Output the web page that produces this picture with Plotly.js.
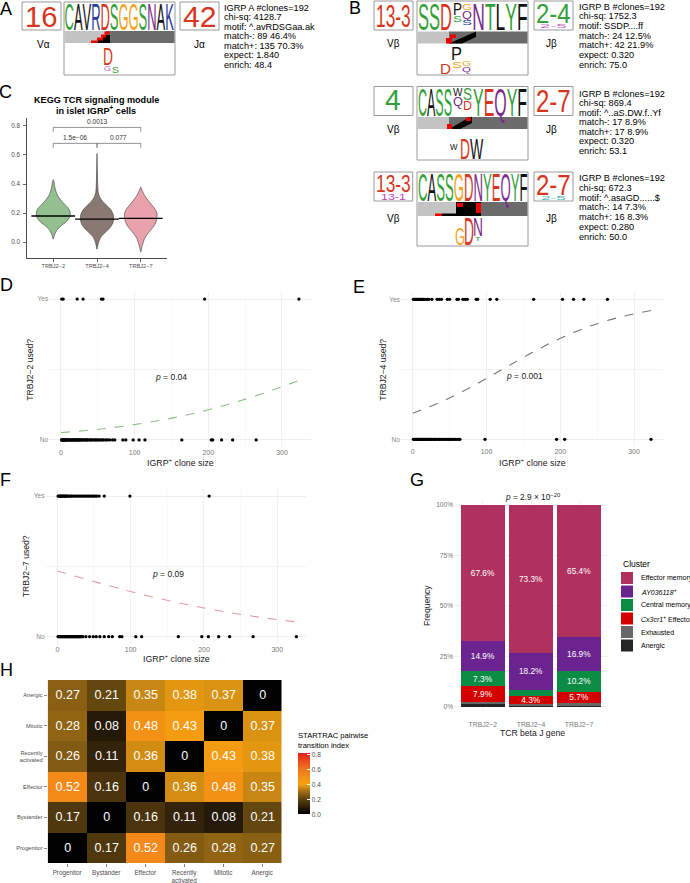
<!DOCTYPE html>
<html><head><meta charset="utf-8">
<script src="https://cdn.plot.ly/plotly-3.0.1.min.js"></script>
<style>html,body{margin:0;padding:0;background:#fff;}#plot{width:690px;height:883px;}</style>
</head><body><div id="plot"></div>
<script>
// ================= DATA =================
// Panel C : violin outlines (level -> half width in category units)
const violinGenes = ['TRBJ2−2','TRBJ2−4','TRBJ2−7'];
const violinLevels22 = [0.02,0.05,0.08,0.11,0.14,0.17,0.20,0.23,0.26,0.29,0.32,0.35,0.38,0.41,0.43];
const violinWidth22  = [0,0.03,0.08,0.17,0.30,0.37,0.39,0.35,0.26,0.17,0.10,0.06,0.035,0.02,0];
const violinLevels24 = [-0.05,-0.02,0.01,0.04,0.07,0.10,0.13,0.16,0.19,0.22,0.25,0.28,0.31,0.34,0.40,0.50,0.61];
const violinWidth24  = [0,0.02,0.05,0.10,0.20,0.30,0.36,0.38,0.37,0.32,0.23,0.13,0.06,0.03,0.015,0.008,0];
const violinLevels27 = [-0.07,-0.04,-0.01,0.02,0.05,0.08,0.11,0.14,0.17,0.20,0.23,0.26,0.29,0.32,0.35,0.38];
const violinWidth27  = [0,0.02,0.05,0.08,0.14,0.22,0.30,0.35,0.37,0.37,0.32,0.24,0.16,0.09,0.04,0];
const violinMedians = [0.179,0.158,0.163];
const bracketFrom = [0,0,1];
const bracketTo = [2,1,2];
const bracketY = [0.79,0.68,0.68];
const bracketLabels = ['0.0013','1.5e−06','0.077'];

// Panels D, E, F : clone sizes by usage, fitted curve
const yesD = [1,3,22,30,55,57,195,323];
const noD = [1,1,2,2,3,3,4,4,5,5,6,7,8,9,10,11,12,13,14,15,16,17,18,19,20,21,22,23,24,25,26,27,28,30,31,32,34,35,36,38,40,41,43,45,47,48,50,52,54,56,58,61,63,66,70,73,84,88,98,106,114,164,204,206,218,233,265];
const yesE = [1,2,3,4,5,6,7,8,9,10,11,12,13,14,15,16,18,20,22,26,33,36,39,47,50,60,62,68,71,74,86,88,105,114,164,203,218,232,264];
const noE = [1,2,3,4,5,6,7,8,9,10,11,12,13,14,15,16,17,18,19,20,21,22,23,24,25,27,29,30,31,33,35,36,38,40,41,43,45,47,49,50,52,54,56,58,60,62,64,98,195,206,323];
const yesF = [1,2,3,4,5,6,7,8,9,10,11,12,13,14,16,17,19,20,22,24,26,28,30,32,34,36,38,40,42,44,46,48,50,52,54,57,64,99,207];
const noF = [1,2,3,4,5,6,7,8,9,10,11,12,13,14,15,16,17,18,19,20,21,22,23,24,25,26,27,28,29,30,31,32,33,35,39,44,49,53,58,64,70,75,85,88,107,115,165,197,206,220,235,267,326];
const curveX = [0,40,80,120,160,200,240,280,323];
const curveD = [0.052,0.070,0.094,0.126,0.165,0.214,0.273,0.341,0.422];
const curveE = [0.186,0.271,0.376,0.495,0.614,0.721,0.808,0.872,0.920];
const curveF = [0.467,0.407,0.349,0.295,0.247,0.204,0.167,0.135,0.107];
const pLabels = ['0.04','0.001','0.09'];

// Panel G : cluster composition (%) per TRBJ gene, bottom -> top
const gGenes = ['TRBJ2−2','TRBJ2−4','TRBJ2−7'];
const gClusters = ['Anergic','Exhausted','<i>Cx3cr1</i><sup>+</sup> Effector','Central memory','<i>AY036118</i><sup>+</sup>','Effector memory'];
const gAnergic = [1.2,0.4,0.5];
const gExhausted = [1.1,0.7,1.3];
const gCx3cr1 = [7.9,4.3,5.7];
const gCentral = [7.3,3.1,10.2];
const gAY036118 = [14.9,18.2,16.9];
const gEffMem = [67.6,73.3,65.4];

// Panel H : STARTRAC pairwise transition index
const hCols = ['Progenitor','Bystander','Effector','Recently<br>activated','Mitotic','Anergic'];
const hRows = ['Progenitor','Bystander','Effector','Recently<br>activated','Mitotic','Anergic'];
const hProgenitor = [0,0.17,0.52,0.26,0.28,0.27];
const hBystander = [0.17,0,0.16,0.11,0.08,0.21];
const hEffector = [0.52,0.16,0,0.36,0.48,0.35];
const hRecent = [0.26,0.11,0.36,0,0.43,0.38];
const hMitotic = [0.28,0.08,0.48,0.43,0,0.37];
const hAnergic = [0.27,0.21,0.35,0.38,0.37,0];

// Panels A / B : TCRdist motif summaries
const infoA  = ['IGRP A #clones=192','chi-sq: 4128.7','motif: ^.avRDSGaa.ak','match-: 89 46.4%','match+: 135 70.3%','expect: 1.840','enrich: 48.4'];
const infoB1 = ['IGRP B #clones=192','chi-sq: 1752.3','motif: SSDP....ff','match-: 24 12.5%','match+: 42 21.9%','expect: 0.320','enrich: 75.0'];
const infoB2 = ['IGRP B #clones=192','chi-sq: 869.4','motif: ^..aS.DW.f..Yf','match-: 17 8.9%','match+: 17 8.9%','expect: 0.320','enrich: 53.1'];
const infoB3 = ['IGRP B #clones=192','chi-sq: 672.3','motif: ^.asaGD......$','match-: 14 7.3%','match+: 16 8.3%','expect: 0.280','enrich: 50.0'];

// ================= STYLE / HELPERS =================
const FONT = '"Liberation Sans", Arial, sans-serif';
const W = 690, H = 883;
const px = x => x / W, py = y => 1 - y / H;
const GREEN='#34a039', RED='#d6361e', ORANGE='#f2a21c', PURPLE='#7b2a8d', BLUE='#2a3a99', BLK='#111111';
const AA = {C:GREEN,S:GREEN,T:GREEN,Y:GREEN,G:ORANGE,D:RED,E:RED,N:PURPLE,Q:PURPLE,K:BLUE,R:BLUE,H:BLUE,A:BLK,V:BLK,L:BLK,I:BLK,F:BLK,W:BLK,P:BLK,M:BLK};
const annotations = [], shapes = [], fits = [];
function rect(x0,y0,x1,y1,fill,line){
  shapes.push({type:'rect',xref:'paper',yref:'paper',x0:px(x0),x1:px(x1),y0:py(y1),y1:py(y0),
    fillcolor:fill||'rgba(0,0,0,0)',line:line?{color:line,width:1}:{width:0},layer:'above'});
}
function poly(pts,fill){
  const d = pts.map((p,i)=>(i?'L':'M')+px(p[0])+','+py(p[1])).join(' ')+' Z';
  shapes.push({type:'path',xref:'paper',yref:'paper',path:d,fillcolor:fill,line:{width:0},layer:'above'});
}
function txt(x,y,text,o){
  o=o||{};
  annotations.push({xref:'paper',yref:'paper',x:px(x),y:py(y),text:text,showarrow:false,
    xanchor:o.xa||'center',yanchor:o.ya||'middle',textangle:o.angle||0,
    font:{family:FONT,size:o.size||8,color:o.color||'#000'}});
  return annotations.length-1;
}
function fitText(str,x0,y0,x1,y1,color){
  const t = color ? `<span style="color:${color}">${str}</span>` :
    str.split('').map(c=>`<span style="color:${AA[c]||BLK}">${c}</span>`).join('');
  const i = txt((x0+x1)/2,(y0+y1)/2,t,{size:14});
  fits.push({i,x0,y0,x1,y1});
}
function infoBlock(lines,x,y0,step){ lines.forEach((l,k)=>txt(x,y0+k*step,l,{xa:'left',size:9.2})); }
const BOX='#9a9a9a', LG='#c4c4c4', DG='#6b6b6b';

// ---- Panel A
rect(22,2,61,30,null,BOX); fitText('16',25,5,58,27,RED);
txt(43,44,'Vα',{size:10});
rect(64,2,175,75,null,BOX);
fitText('CAVRDSGGSNAK',65,3,174,30);
rect(64.5,31,106,43,LG); rect(106,31,174.5,43,DG);
rect(98,39,110,43,'#000'); rect(103,35,110,39,'#000');
rect(91,40.5,98,43,'#e00'); rect(97,37.5,103,40.5,'#e00'); rect(101,34.5,106,37.5,'#e00'); rect(104.5,31.5,109.5,34.5,'#e00');
fitText('D',103,47,113,65,RED); fitText('S',112,66,119,73,GREEN); fitText('G',104,66,111,71,'#c060c0');
rect(180,2,219,30,null,BOX); fitText('42',183,5,217,27,RED);
txt(199,44,'Jα',{size:10});
infoBlock(infoA,222,7.7,9.5);

// ---- Panel B row 1
rect(374,1,413,30,null,BOX); fitText('13-3',376,4,411,27,RED);
txt(393.3,43.5,'Vβ',{size:10});
rect(417,1,528,75,null,BOX);
fitText('SSD',418,3,452,30);
fitText('P',453,3,462,15,BLK); fitText('S',453,16,462,22,GREEN);
fitText('G',462,3,472,10,ORANGE); fitText('Q',462,11,472,19,PURPLE); fitText('S',462,20,472,25,BLUE);
fitText('NTLYF',473,3,527,30);
rect(417.5,31.5,449,43.5,LG); rect(449,31.5,527.5,43.5,DG);
poly([[449,43.5],[476,31.5],[476,37],[462,43.5]],'#000');
rect(446,38,452,43.5,'#e00'); rect(450,34.5,456,38,'#e00');
fitText('P',451,46,462,60,BLK); fitText('D',440,63,451,74,RED); fitText('S',452,61,462,68,ORANGE);
fitText('G',462,61,471,66,ORANGE); fitText('Q',462,67,471,72,PURPLE);
rect(534,1,573,30,null,BOX); fitText('2-4',536,3,571,23,GREEN); fitText('2-5',540,24,567,28,'#d060d0');
txt(551.7,43.5,'Jβ',{size:10});
infoBlock(infoB1,576.7,6.7,9.65);

// ---- Panel B row 2
rect(374,86.5,413,115.5,null,BOX); fitText('4',385,89,401,110,GREEN);
txt(393.3,129.5,'Vβ',{size:10});
rect(417,86.5,528,160,null,BOX);
fitText('CASS',418,88,452,116);
fitText('W',453,88,463,96,BLK); fitText('Q',453,97,463,106,PURPLE);
fitText('S',463,88,472,100,GREEN); fitText('D',463,101,472,110,RED);
fitText('YEQYF',473,88,527,116);
rect(417.5,117,449,129,LG); rect(449,117,527.5,129,DG);
poly([[449,129],[470,117],[472,117],[472,123],[460,129]],'#000');
rect(447,124,452,129,'#e00'); rect(466,117.5,471,121,'#e00');
fitText('W',450,144,458,150,BLK); fitText('D',460,138,470,159,RED); fitText('W',470,138,484,159,BLK);
rect(534,86.5,573,115.5,null,BOX); fitText('2-7',536,89,571,112,RED);
txt(551.7,129.5,'Jβ',{size:10});
infoBlock(infoB2,576.7,93.7,9.5);

// ---- Panel B row 3
rect(374,172,412.7,201,null,BOX); fitText('13-3',376,174,411,192,RED); fitText('13-1',381,193.5,406,199.5,'#c43fc4');
txt(393.3,218.3,'Vβ',{size:10});
rect(417,172,528,246,null,BOX);
fitText('CASSGDNYEQYF',418,173,527.5,201);
rect(417.5,202,456,216,LG); rect(456,202,481,216,'#000'); rect(481,202,527.5,216,DG);
rect(457,203,463,207,'#e00'); rect(476,203,481,213,'#e00');
rect(442,213.5,456,216,'#000'); rect(435,213.5,442,216,'#e00');
fitText('G',455,227,465,245,ORANGE); fitText('D',464,217,474,245,RED); fitText('N',473,217,483,236,PURPLE);
fitText('T',475,237,481,241,GREEN);
rect(534,172,573,201,null,BOX); fitText('2-7',536,174,571,195,RED); fitText('2-5',541,196,566,200,'#3bb3b3');
txt(551.7,218.3,'Jβ',{size:10});
infoBlock(infoB3,576.7,178.3,9.73);

// ---- Panel letters
[['A',6,9],['B',355,8],['C',5,92],['D',6,285],['E',359,287],['F',5,480],['G',417,480],['H',6,670]]
  .forEach(l=>txt(l[1],l[2],l[0],{size:18}));

// ---- Titles
txt(96,100.3,'<b>KEGG TCR signaling module</b>',{size:9.1});
txt(96,110.5,'<b>in islet IGRP<sup>+</sup> cells</b>',{size:9.1});
txt(29.3,369.5,'TRBJ2−2 used?',{size:8.6,angle:-90,color:'#1a1a1a'});
txt(180,461.7,'IGRP<sup>+</sup> clone size',{size:8.8,color:'#1a1a1a'});
txt(382.3,369.5,'TRBJ2−4 used?',{size:8.6,angle:-90,color:'#1a1a1a'});
txt(532.7,461.7,'IGRP<sup>+</sup> clone size',{size:8.8,color:'#1a1a1a'});
txt(26,566.3,'TRBJ2−7 used?',{size:8.6,angle:-90,color:'#1a1a1a'});
txt(176.7,658.3,'IGRP<sup>+</sup> clone size',{size:8.8,color:'#1a1a1a'});
txt(427,606,'Frequency',{size:8.6,angle:-90,color:'#1a1a1a'});
txt(532.5,733,'TCR beta J gene',{size:8.6,color:'#1a1a1a'});
txt(532,496.5,'<i>p</i> = 2.9 × 10<sup>−20</sup>',{size:8.3,color:'#1a1a1a'});

// data-anchored labels
const pPos = [['x2','y2',150,0.45],['x3','y3',152,0.45],['x4','y4',151,0.445]];
pPos.forEach((p,k)=>annotations.push({xref:p[0],yref:p[1],x:p[2],y:p[3],text:'<i>p</i> = '+pLabels[k],showarrow:false,font:{family:FONT,size:8.5,color:'#1a1a1a'}}));
bracketLabels.forEach((l,k)=>annotations.push({xref:'x',yref:'y',x:(bracketFrom[k]+bracketTo[k])/2,y:bracketY[k]+0.004,yanchor:'bottom',text:l,showarrow:false,font:{family:FONT,size:6.6,color:'#333'}}));

// ================= TRACES =================
const traces = [];
function violinTrace(idx,lv,wd,color){
  const n = lv.length;
  const xs = [], ys = [];
  for(let i=0;i<n;i++){xs.push(idx+wd[i]);ys.push(lv[i]);}
  for(let i=n-1;i>=0;i--){xs.push(idx-wd[i]);ys.push(lv[i]);}
  return {type:'scatter',mode:'lines',x:xs,y:ys,fill:'toself',fillcolor:color,
    line:{color:'#3a3a3a',width:0.6,shape:'spline',smoothing:0.8},xaxis:'x',yaxis:'y',showlegend:false,hoverinfo:'skip'};
}
traces.push(violinTrace(0,violinLevels22,violinWidth22,'#93c08e'));
traces.push(violinTrace(1,violinLevels24,violinWidth24,'#8a7873'));
traces.push(violinTrace(2,violinLevels27,violinWidth27,'#e9a1ab'));
{
  const mx=[],my=[];
  violinMedians.forEach((m,i)=>{mx.push(i-0.5,i+0.5,null);my.push(m,m,null);});
  traces.push({type:'scatter',mode:'lines',x:mx,y:my,line:{color:'#000',width:1.4},xaxis:'x',yaxis:'y',showlegend:false,hoverinfo:'skip'});
  const bx=[],by=[];
  bracketY.forEach((b,k)=>{bx.push(bracketFrom[k],bracketFrom[k],bracketTo[k],bracketTo[k],null);by.push(b-0.03,b,b,b-0.03,null);});
  traces.push({type:'scatter',mode:'lines',x:bx,y:by,line:{color:'#666',width:0.7},xaxis:'x',yaxis:'y',showlegend:false,hoverinfo:'skip'});
}
function usagePanel(yes,no,curve,color,xa,ya){
  traces.push({type:'scatter',mode:'lines',x:curveX,y:curve,line:{color:color,width:1.1,dash:'dash',shape:'spline'},xaxis:xa,yaxis:ya,showlegend:false,hoverinfo:'skip'});
  traces.push({type:'scatter',mode:'markers',x:yes,y:yes.map(()=>1),marker:{color:'#000',size:3.3},xaxis:xa,yaxis:ya,showlegend:false,hoverinfo:'skip'});
  traces.push({type:'scatter',mode:'markers',x:no,y:no.map(()=>0),marker:{color:'#000',size:3.3},xaxis:xa,yaxis:ya,showlegend:false,hoverinfo:'skip'});
}
usagePanel(yesD,noD,curveD,'#8fbf89','x2','y2');
usagePanel(yesE,noE,curveE,'#7d7573','x3','y3');
usagePanel(yesF,noF,curveF,'#e69aa5','x4','y4');

const gSeries = [gAnergic,gExhausted,gCx3cr1,gCentral,gAY036118,gEffMem];
const gColors = ['#262626','#676767','#d40000','#0b8c45','#6b2390','#b0305e'];
gSeries.forEach((vals,k)=>traces.push({type:'bar',x:[0,1,2],y:vals,width:0.9,name:gClusters[k],showlegend:false,
  marker:{color:gColors[k],line:{width:0}},text:vals.map(v=>v>=4?v.toFixed(1)+'%':''),textposition:'inside',
  insidetextanchor:'middle',textangle:0,constraintext:'none',textfont:{family:FONT,size:8.3,color:'#ffffff'},
  xaxis:'x5',yaxis:'y5',hoverinfo:'skip'}));

// Legend for panel G (top = last cluster), drawn as keys + labels
txt(621,563.7,'Cluster',{xa:'left',size:8.5});
for(let k=0;k<gClusters.length;k++){
  const idx = gClusters.length-1-k, yc = 578+k*13.5;
  rect(621,yc-6,633,yc+6,gColors[idx]);
  txt(639,yc,gClusters[idx],{xa:'left',size:7});
}

const hZ = [hProgenitor,hBystander,hEffector,hRecent,hMitotic,hAnergic];
traces.push({type:'heatmap',x:hCols,y:hRows,z:hZ,text:hZ.map(r=>r.map(v=>String(v))),texttemplate:'%{text}',
  textfont:{family:FONT,size:12.5,color:'#ffffff'},zmin:0,zmax:0.82,xaxis:'x6',yaxis:'y6',showlegend:false,hoverinfo:'skip',
  colorscale:[[0,'#000000'],[0.122,'#2e200a'],[0.244,'#5e420f'],[0.366,'#9c6c14'],[0.488,'#f5a20f'],[0.732,'#f0781e'],[0.976,'#e4271b'],[1,'#e0201a']],
  colorbar:{x:px(298),xanchor:'left',y:py(814.3),yanchor:'bottom',len:85,lenmode:'pixels',thickness:12,thicknessmode:'pixels',
    outlinewidth:0,xpad:0,ypad:0,tickvals:[0,0.2,0.4,0.6,0.8],ticktext:['0.0','0.2','0.4','0.6','0.8'],ticks:'inside',ticklen:2.5,tickcolor:'#fff',
    tickfont:{family:FONT,size:6.5,color:'#4d4d4d'},title:{text:'STARTRAC pairwise<br>transition index',side:'top',font:{family:FONT,size:7.6,color:'#000'}}}});

// ================= LAYOUT =================
const GM='#ebebeb', Gm='#f4f4f4', TG='#4d4d4d';
function minimalX(dom,anchor){
  return {domain:dom,anchor:anchor,range:[-16,339],tickvals:[0,100,200,300],showgrid:true,gridcolor:GM,gridwidth:0.7,
    minor:{dtick:50,tick0:0,showgrid:true,gridcolor:Gm,gridwidth:0.45},zeroline:false,showline:false,ticks:'',
    tickfont:{family:FONT,size:7,color:'#777'}};
}
function minimalY(dom,anchor){
  return {domain:dom,anchor:anchor,range:[-0.05,1.05],tickvals:[0,1],ticktext:['No','Yes'],showgrid:true,gridcolor:GM,gridwidth:0.7,
    minor:{dtick:0.5,tick0:0,showgrid:true,gridcolor:GM,gridwidth:0.6},zeroline:false,showline:false,ticks:'',
    tickfont:{family:FONT,size:6.6,color:'#888'}};
}
const layout = {
  width:W,height:H,margin:{l:0,r:0,t:0,b:0,autoexpand:false},paper_bgcolor:'#fff',plot_bgcolor:'rgba(0,0,0,0)',
  font:{family:FONT,color:'#000'},barmode:'stack',hovermode:false,showlegend:false,
  xaxis:{domain:[px(27),px(167)],anchor:'y',range:[-0.6,2.6],tickvals:[0,1,2],ticktext:violinGenes,showline:true,linecolor:'#000',linewidth:0.7,
    ticks:'outside',ticklen:3,tickwidth:0.6,tickcolor:'#000',tickfont:{family:FONT,size:5.6,color:TG},showgrid:false,zeroline:false},
  yaxis:{domain:[py(258),py(118)],anchor:'x',range:[-0.11,0.855],tickvals:[0,0.2,0.4,0.6,0.8],ticktext:['0.0','0.2','0.4','0.6','0.8'],
    showline:true,linecolor:'#000',linewidth:0.7,ticks:'outside',ticklen:3,tickwidth:0.6,tickcolor:'#000',ticklabelstandoff:2,
    tickfont:{family:FONT,size:6.3,color:TG},showgrid:false,zeroline:false},
  xaxis2:minimalX([px(49.2),px(310.7)],'y2'),
  yaxis2:minimalY([py(447),py(292)],'x2'),
  xaxis3:minimalX([px(400.9),px(662.8)],'y3'),
  yaxis3:minimalY([py(446.3),py(292.3)],'x3'),
  xaxis4:minimalX([px(45.6),px(305.9)],'y4'),
  yaxis4:minimalY([py(643.7),py(489)],'x4'),
  xaxis5:{domain:[px(454),px(608)],anchor:'y5',range:[-0.6,2.6],tickvals:[0,1,2],ticktext:gGenes,showgrid:true,gridcolor:GM,gridwidth:0.7,
    zeroline:false,ticks:'',ticklabelstandoff:8,tickfont:{family:FONT,size:6.8,color:'#777'}},
  yaxis5:{domain:[py(710.7),py(501)],anchor:'x5',range:[-2,102],tickvals:[0,25,50,75,100],ticktext:['0%','25%','50%','75%','100%'],
    showgrid:true,gridcolor:GM,gridwidth:0.7,minor:{dtick:12.5,tick0:0,showgrid:true,gridcolor:Gm,gridwidth:0.45},zeroline:false,ticks:'',
    tickfont:{family:FONT,size:6.6,color:'#777'}},
  xaxis6:{domain:[px(47.7),px(281.7)],anchor:'y6',type:'category',ticks:'outside',ticklen:3,tickwidth:0.6,tickcolor:'#333',
    tickfont:{family:FONT,size:6.3,color:TG},showgrid:false,zeroline:false,showline:false},
  yaxis6:{domain:[py(863.3),py(680)],anchor:'x6',type:'category',ticks:'outside',ticklen:3,tickwidth:0.6,tickcolor:'#333',
    tickfont:{family:FONT,size:5.7,color:TG},showgrid:false,zeroline:false,showline:false},
  annotations:annotations,shapes:shapes
};

const gd = document.getElementById('plot');
Plotly.newPlot(gd,traces,layout,{staticPlot:true,displayModeBar:false}).then(()=>{
  fits.forEach(f=>{
    try{
      const g = gd.querySelector('.annotation[data-index="'+f.i+'"]');
      if(!g) return;
      const t = g.querySelector('text');
      const bb = t.getBBox();
      const r = t.getBoundingClientRect();
      if(!bb.width||!bb.height) return;
      const offX = r.left - bb.x, offY = r.top - bb.y;
      const sx = (f.x1-f.x0)/bb.width;
      const sy = (f.y1-f.y0)/(0.641*bb.height);
      const base = bb.y + 0.81*bb.height;
      const X = f.x0 - offX, Y = f.y1 - offY;
      t.setAttribute('transform','translate('+X+','+Y+') scale('+sx+','+sy+') translate('+(-bb.x)+','+(-base)+')');
    }catch(e){}
  });
});
</script>
</body></html>
